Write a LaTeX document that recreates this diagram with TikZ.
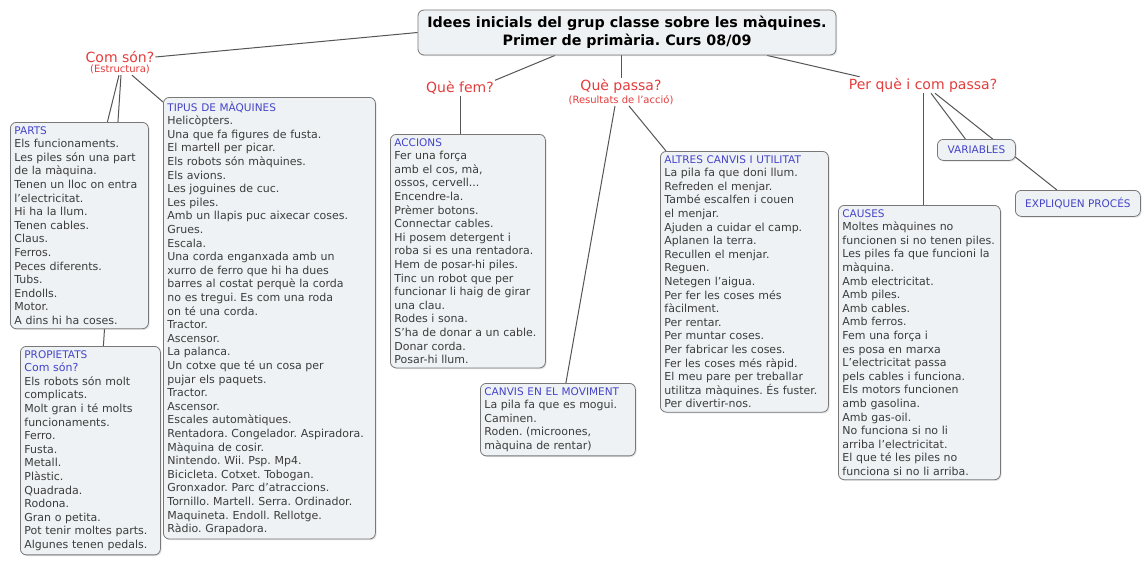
\documentclass[tikz,border=0pt]{standalone}
\usepackage{fontspec}
\setmainfont{DejaVu Sans}
\usepackage{tikz}
\usetikzlibrary{positioning,backgrounds,shadows}

\definecolor{boxfill}{HTML}{EEF2F4}
\definecolor{boxline}{HTML}{787878}
\definecolor{headblue}{HTML}{4444C8}
\definecolor{bodygray}{HTML}{3C3C3C}
\definecolor{linkred}{HTML}{E43C3C}
\definecolor{linegray}{HTML}{555555}
\newcommand{\head}[1]{\textcolor{headblue}{\fontsize{10.5}{13.6}\selectfont #1}}
\frenchspacing

\begin{document}
\begin{tikzpicture}[x=1pt, y=-1pt,
  concept/.style={draw=boxline, fill=boxfill, rounded corners=6pt, line width=0.8pt,
    drop shadow={opacity=0.22, shadow xshift=1.2pt, shadow yshift=-1.2pt},
    anchor=north west, align=left, inner xsep=4pt, inner ysep=4pt,
    text=bodygray, font=\fontsize{11}{13.6}\selectfont},
  tag/.style={concept, align=center, text=headblue, font=\fontsize{10.5}{12}\selectfont},
  question/.style={text=linkred, font=\fontsize{14}{16}\selectfont, inner sep=1pt},
  remark/.style={text=linkred, font=\fontsize{10}{12}\selectfont, inner sep=1pt},
  link/.style={draw=linegray, line width=1pt}]
  \useasboundingbox (0,0) rectangle (1146,562);

  % title
  \node (title) [concept, anchor=center, align=center, text=black,
    font=\bfseries\fontsize{14.3}{18}\selectfont, minimum width=418pt, minimum height=45pt]
    at (627,32.5) {Idees inicials del grup classe sobre les màquines.\\Primer de primària. Curs 08/09};

  % questions
  \node (comson) [question] at (120,57) {Com són?};
  \node (estr) [remark, below=0pt of comson] {(Estructura)};
  \node (quefem) [question] at (460,88) {Què fem?};
  \node (quepassa) [question] at (621,86) {Què passa?};
  \node (result) [remark, below=0pt of quepassa] {(Resultats de l'acció)};
  \node (perque) [question] at (923,85) {Per què i com passa?};

  % concepts
  \node (parts) [concept, text width=130pt] at (10,122) {\head{PARTS}\\
    Els funcionaments.\\Les piles són una part\\de la màquina.\\Tenen un lloc on entra\\
    l'electricitat.\\Hi ha la llum.\\Tenen cables.\\Claus.\\Ferros.\\Peces diferents.\\
    Tubs.\\Endolls.\\Motor.\\A dins hi ha coses.};
  \node (props) [concept, text width=132pt] at (20,346) {\head{PROPIETATS}\\
    \textcolor{headblue}{Com són?}\\Els robots són molt\\complicats.\\Molt gran i té molts\\
    funcionaments.\\Ferro.\\Fusta.\\Metall.\\Plàstic.\\Quadrada.\\Rodona.\\Gran o petita.\\
    Pot tenir moltes parts.\\Algunes tenen pedals.};
  \node (tipus) [concept, text width=204pt] at (163,97) {\head{TIPUS DE MÀQUINES}\\
    Helicòpters.\\Una que fa figures de fusta.\\El martell per picar.\\Els robots són màquines.\\
    Els avions.\\Les joguines de cuc.\\Les piles.\\Amb un llapis puc aixecar coses.\\Grues.\\
    Escala.\\Una corda enganxada amb un\\xurro de ferro que hi ha dues\\
    barres al costat perquè la corda\\no es tregui. Es com una roda\\on té una corda.\\
    Tractor.\\Ascensor.\\La palanca.\\Un cotxe que té un cosa per\\pujar els paquets.\\
    Tractor.\\Ascensor.\\Escales automàtiques.\\Rentadora. Congelador. Aspiradora.\\
    Màquina de cosir.\\Nintendo. Wii. Psp. Mp4.\\Bicicleta. Cotxet. Tobogan.\\
    Gronxador. Parc d'atraccions.\\Tornillo. Martell. Serra. Ordinador.\\
    Maquineta. Endoll. Rellotge.\\Ràdio. Grapadora.};
  \node (accions) [concept, text width=147pt] at (390,134) {\head{ACCIONS}\\
    Fer una força\\amb el cos, mà,\\ossos, cervell...\\Encendre-la.\\Prèmer botons.\\
    Connectar cables.\\Hi posem detergent i\\roba si es una rentadora.\\Hem de posar-hi piles.\\
    Tinc un robot que per\\funcionar li haig de girar\\una clau.\\Rodes i sona.\\
    S'ha de donar a un cable.\\Donar corda.\\Posar-hi llum.};
  \node (canvis) [concept, text width=147pt] at (480,383) {\head{CANVIS EN EL MOVIMENT}\\
    La pila fa que es mogui.\\Caminen.\\Roden. (microones,\\màquina de rentar)};
  \node (altres) [concept, text width=160pt] at (660,151) {\head{ALTRES CANVIS I UTILITAT}\\
    La pila fa que doni llum.\\Refreden el menjar.\\També escalfen i couen\\el menjar.\\
    Ajuden a cuidar el camp.\\Aplanen la terra.\\Recullen el menjar.\\Reguen.\\
    Netegen l'aigua.\\Per fer les coses més\\fàcilment.\\Per rentar.\\Per muntar coses.\\
    Per fabricar les coses.\\Fer les coses més ràpid.\\El meu pare per treballar\\
    utilitza màquines. És fuster.\\Per divertir-nos.};
  \node (causes) [concept, text width=154pt] at (838,205) {\head{CAUSES}\\
    Moltes màquines no\\funcionen si no tenen piles.\\Les piles fa que funcioni la\\
    màquina.\\Amb electricitat.\\Amb piles.\\Amb cables.\\Amb ferros.\\Fem una força i\\
    es posa en marxa\\L'electricitat passa\\pels cables i funciona.\\Els motors funcionen\\
    amb gasolina.\\Amb gas-oil.\\No funciona si no li\\arriba l'electricitat.\\
    El que té les piles no\\funciona si no li arriba.};
  \node (variab) [tag, minimum width=78pt, minimum height=21pt] at (937,139) {VARIABLES};
  \node (expliq) [tag, minimum width=125pt, minimum height=26pt] at (1015,190) {EXPLIQUEN PROCÉS};

  % links
  \begin{scope}[on background layer]
    \fill[white] (0,0) rectangle (1146,562);
    \draw[link] (comson.east) -- (title.west);
    \draw[link] ([xshift=-1pt]estr.south) -- ([xshift=28pt]parts.north);
    \draw[link] ([xshift=1pt]estr.south) -- ([xshift=13pt]props.north);
    \draw[link] ([xshift=12pt]estr.south) -- ([yshift=-5pt]tipus.north west);
    \draw[link] ([xshift=-72pt]title.south) -- (quefem.north east);
    \draw[link] (quefem) -- (quefem |- accions.north);
    \draw[link] (title.south -| quepassa) -- (quepassa);
    \draw[link] ([xshift=-6pt]result.south) -- ([xshift=8pt]canvis.north);
    \draw[link] ([xshift=8pt]result.south) -- ([xshift=6pt]altres.north west);
    \draw[link] ([xshift=140pt]title.south) -- ([xshift=12pt]perque.north west);
    \draw[link] (perque) -- (perque |- causes.north);
    \draw[link] ([xshift=8pt]perque.south) -- ([xshift=-11pt]variab.north);
    \draw[link] ([xshift=12pt]perque.south) -- ([xshift=-21pt]expliq.north);
  \end{scope}
\end{tikzpicture}
\end{document}
